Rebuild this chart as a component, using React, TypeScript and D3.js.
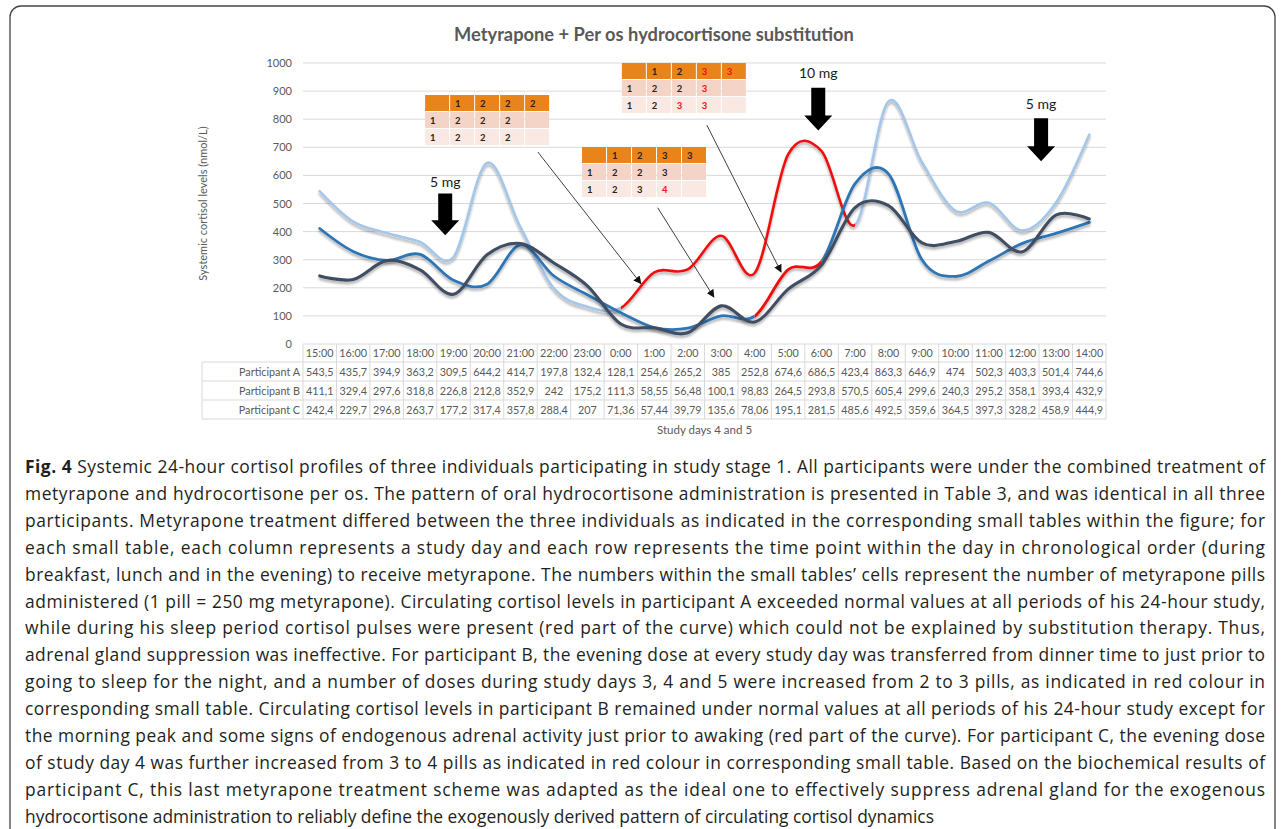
import React from "react";
import * as d3 from "d3";

const TIMES = [
  "15:00", "16:00", "17:00", "18:00", "19:00", "20:00", "21:00", "22:00", "23:00",
  "0:00", "1:00", "2:00", "3:00", "4:00", "5:00", "6:00", "7:00", "8:00", "9:00",
  "10:00", "11:00", "12:00", "13:00", "14:00",
];
const PART_A = [543.5, 435.7, 394.9, 363.2, 309.5, 644.2, 414.7, 197.8, 132.4, 128.1, 254.6, 265.2, 385, 252.8, 674.6, 686.5, 423.4, 863.3, 646.9, 474, 502.3, 403.3, 501.4, 744.6];
const PART_B = [411.1, 329.4, 297.6, 318.8, 226.8, 212.8, 352.9, 242, 175.2, 111.3, 58.55, 56.48, 100.1, 98.83, 264.5, 293.8, 570.5, 605.4, 299.6, 240.3, 295.2, 358.1, 393.4, 432.9];
const PART_C = [242.4, 229.7, 296.8, 263.7, 177.2, 317.4, 357.8, 288.4, 207, 71.36, 57.44, 39.79, 135.6, 78.06, 195.1, 281.5, 485.6, 492.5, 359.6, 364.5, 397.3, 328.2, 458.9, 444.9];
const NAMES = ["Participant A", "Participant B", "Participant C"];
const Y_TICKS = [0, 100, 200, 300, 400, 500, 600, 700, 800, 900, 1000];

// index ranges drawn in red (sleep-period pulses)
const RED_A: [number, number] = [9, 16];
const RED_B: [number, number] = [13, 15];

// small metyrapone tables, "*" = red number
const TABLE_A = [["", "1", "2", "2", "2"], ["1", "2", "2", "2", ""], ["1", "2", "2", "2", ""]];
const TABLE_B = [["", "1", "2", "3*", "3*"], ["1", "2", "2", "3*", ""], ["1", "2", "3*", "3*", ""]];
const TABLE_C = [["", "1", "2", "3", "3"], ["1", "2", "2", "3", ""], ["1", "2", "3", "4*", ""]];
// anchors in band units (from plot left) and value of the top edge
const TABLE_U = [3.65, 9.53, 8.34];
const TABLE_V = [886, 1000, 701];

// thin pointer arrows: band units / values
const PTR_FROM = [[7.02, 683], [12.07, 779], [10.6, 485]];
const PTR_TO = [[10.1, 215], [14.29, 256], [12.28, 167]];

// dose arrows
const DOSE_LABEL = ["5 mg", "10 mg", "5 mg"];
const DOSE_U = [4.25, 15.4, 22.06];
const DOSE_TEXT = [575, 963, 853];
const DOSE_TOP = [536, 912, 803];
const DOSE_TIP = [387, 760, 650];

const CAPTION = [
  " Systemic 24-hour cortisol profiles of three individuals participating in study stage 1. All participants were under the combined treatment of",
  "metyrapone and hydrocortisone per os. The pattern of oral hydrocortisone administration is presented in Table 3, and was identical in all three",
  "participants. Metyrapone treatment differed between the three individuals as indicated in the corresponding small tables within the figure; for",
  "each small table, each column represents a study day and each row represents the time point within the day in chronological order (during",
  "breakfast, lunch and in the evening) to receive metyrapone. The numbers within the small tables’ cells represent the number of metyrapone pills",
  "administered (1 pill = 250 mg metyrapone). Circulating cortisol levels in participant A exceeded normal values at all periods of his 24-hour study,",
  "while during his sleep period cortisol pulses were present (red part of the curve) which could not be explained by substitution therapy. Thus,",
  "adrenal gland suppression was ineffective. For participant B, the evening dose at every study day was transferred from dinner time to just prior to",
  "going to sleep for the night, and a number of doses during study days 3, 4 and 5 were increased from 2 to 3 pills, as indicated in red colour in",
  "corresponding small table. Circulating cortisol levels in participant B remained under normal values at all periods of his 24-hour study except for",
  "the morning peak and some signs of endogenous adrenal activity just prior to awaking (red part of the curve). For participant C, the evening dose",
  "of study day 4 was further increased from 3 to 4 pills as indicated in red colour in corresponding small table. Based on the biochemical results of",
  "participant C, this last metyrapone treatment scheme was adapted as the ideal one to effectively suppress adrenal gland for the exogenous",
  "hydrocortisone administration to reliably define the exogenously derived pattern of circulating cortisol dynamics",
];

const W = 1281, H = 829;
const P = { left: 303, right: 1106, top: 63, bottom: 344 };
const GRAY = "#595959";
const FONT = "Lato, 'Open Sans', sans-serif";
const RED = "#f01010";

const fmt = (v: number) => String(v).replace(".", ",");

export default function App() {
  const x = d3.scaleBand<string>().domain(TIMES).range([P.left, P.right]);
  const bw = x.bandwidth();
  const xc = (i: number) => x(TIMES[i])! + bw / 2;
  const u = d3.scaleLinear([0, TIMES.length], [P.left, P.right]);
  const y = d3.scaleLinear([0, 1000], [P.bottom, P.top]);
  const line = d3.line<number>().x((_, i) => xc(i)).y((d) => y(d)).curve(d3.curveCatmullRom.alpha(0));

  const series = [
    { name: NAMES[0], values: PART_A, color: "#a3c6e9", width: 2.6, red: RED_A },
    { name: NAMES[1], values: PART_B, color: "#2e75b6", width: 2.8, red: RED_B },
    { name: NAMES[2], values: PART_C, color: "#404e62", width: 3.1, red: null as [number, number] | null },
  ];

  const rowTops = [P.bottom, 362, 381, 400, 419];
  const labelLeft = 202;
  const tables = [TABLE_A, TABLE_B, TABLE_C];
  const cellW = 25, cellH = 17;
  const rowFill = ["#e9841a", "#f4d4c7", "#fae9e2"];

  return (
    <svg width={W} height={H} style={{ position: "absolute", left: 0, top: 0, background: "#fff" }}>
      <defs>
        <filter id="sh" x="-5%" y="-20%" width="110%" height="160%">
          <feDropShadow dx="0" dy="2.5" stdDeviation="1.3" floodColor="#000" floodOpacity="0.3" />
        </filter>
        <marker id="ah" viewBox="0 0 10 10" refX="9" refY="5" markerWidth="8" markerHeight="8"
          markerUnits="userSpaceOnUse" orient="auto">
          <path d="M0,0 L10,5 L0,10 Z" fill="#111" />
        </marker>
        {series.filter((s) => s.red).map((s, k) => (
          <React.Fragment key={k}>
            <clipPath id={`in-${s.name.slice(-1)}`}>
              <rect x={xc(s.red![0])} y={0} width={xc(s.red![1]) - xc(s.red![0])} height={H} />
            </clipPath>
            <clipPath id={`out-${s.name.slice(-1)}`}>
              <rect x={0} y={0} width={xc(s.red![0])} height={H} />
              <rect x={xc(s.red![1])} y={0} width={W - xc(s.red![1])} height={H} />
            </clipPath>
          </React.Fragment>
        ))}
      </defs>

      {/* frame */}
      <rect x={10} y={6} width={1265} height={900} rx={11} fill="none" stroke="#444" strokeWidth={1.3} />

      {/* title */}
      <text x={654} y={41} textAnchor="middle" fontFamily={FONT} fontWeight="bold" fontSize={18.3} fill={GRAY}>
        Metyrapone + Per os hydrocortisone substitution
      </text>

      {/* grid + y ticks */}
      {Y_TICKS.map((t) => (
        <g key={t}>
          <line x1={P.left} x2={P.right} y1={y(t)} y2={y(t)} stroke="#d9d9d9" strokeWidth={1} />
          <text x={292} y={y(t) + 4} textAnchor="end" fontFamily={FONT} fontSize={11} fill={GRAY}>{t}</text>
        </g>
      ))}
      <text transform={`translate(207,${(P.top + P.bottom) / 2}) rotate(-90)`} textAnchor="middle"
        fontFamily={FONT} fontSize={11} fill={GRAY}>
        Systemic cortisol levels (nmol/L)
      </text>

      {/* small metyrapone tables */}
      {tables.map((tb, k) => {
        const tx = u(TABLE_U[k]);
        const ty = y(TABLE_V[k]);
        return (
          <g key={k}>
            {tb.map((row, r) => row.map((c, j) => (
              <g key={`${r}-${j}`}>
                <rect x={tx + j * cellW} y={ty + r * cellH} width={cellW - 1} height={cellH - 1} fill={rowFill[r]} />
                <text x={tx + j * cellW + 5} y={ty + r * cellH + 12} fontFamily={FONT} fontWeight="bold"
                  fontSize={9.5} fill={c.endsWith("*") ? RED : "#2b2118"}>
                  {c.replace("*", "")}
                </text>
              </g>
            )))}
          </g>
        );
      })}

      {/* pointer arrows */}
      {PTR_FROM.map((f, k) => (
        <line key={k} x1={u(f[0])} y1={y(f[1])} x2={u(PTR_TO[k][0])} y2={y(PTR_TO[k][1])}
          stroke="#404040" strokeWidth={1} markerEnd="url(#ah)" />
      ))}

      {/* dose arrows */}
      {DOSE_LABEL.map((lb, k) => {
        const cx = u(DOSE_U[k]);
        const t = y(DOSE_TOP[k]);
        const p = y(DOSE_TIP[k]);
        const d = `M${cx - 7},${t} L${cx + 7},${t} L${cx + 7},${p - 15} L${cx + 14},${p - 15} L${cx},${p} L${cx - 14},${p - 15} L${cx - 7},${p - 15} Z`;
        return (
          <g key={k}>
            <text x={cx} y={y(DOSE_TEXT[k]) + 5} textAnchor="middle" fontFamily={FONT} fontSize={14} fill="#1a1a1a">{lb}</text>
            <path d={d} fill="#000" />
          </g>
        );
      })}

      {/* series */}
      {series.map((s) => {
        const id = s.name.slice(-1);
        const dp = line(s.values)!;
        return (
          <g key={s.name} filter="url(#sh)" fill="none" strokeLinecap="round" strokeLinejoin="round">
            {s.red ? (
              <>
                <path d={dp} stroke={s.color} strokeWidth={s.width} clipPath={`url(#out-${id})`} />
                <path d={dp} stroke={RED} strokeWidth={s.width} clipPath={`url(#in-${id})`} />
              </>
            ) : (
              <path d={dp} stroke={s.color} strokeWidth={s.width} />
            )}
          </g>
        );
      })}

      {/* data table */}
      <g fontFamily={FONT} fontSize={10.8} fill={GRAY}>
        {TIMES.map((t, i) => (
          <text key={t} x={xc(i)} y={rowTops[0] + 13} textAnchor="middle">{t}</text>
        ))}
        {series.map((s, r) => (
          <g key={s.name}>
            <line x1={206} x2={232} y1={rowTops[r + 1] + 9.5} y2={rowTops[r + 1] + 9.5} stroke={s.color}
              strokeWidth={3} filter="url(#sh)" />
            <text x={P.left - 3} y={rowTops[r + 1] + 14} textAnchor="end">{s.name}</text>
            {s.values.map((v, i) => (
              <text key={i} x={xc(i)} y={rowTops[r + 1] + 14} textAnchor="middle">{fmt(v)}</text>
            ))}
          </g>
        ))}
        {rowTops.slice(1).map((ry) => (
          <line key={ry} x1={labelLeft} x2={P.right} y1={ry} y2={ry} stroke="#d9d9d9" />
        ))}
        <line x1={labelLeft} x2={labelLeft} y1={rowTops[1]} y2={rowTops[4]} stroke="#d9d9d9" />
        {TIMES.map((t) => (
          <line key={t} x1={x(t)} x2={x(t)} y1={rowTops[0]} y2={rowTops[4]} stroke="#d9d9d9" />
        ))}
        <line x1={P.right} x2={P.right} y1={rowTops[0]} y2={rowTops[4]} stroke="#d9d9d9" />
        <text x={(P.left + P.right) / 2} y={rowTops[4] + 15} textAnchor="middle" fontSize={11.5}>Study days 4 and 5</text>
      </g>

      {/* caption */}
      <g fontFamily="'Open Sans', sans-serif" fontSize={17.4} fill="#231f20">
        {CAPTION.map((ln, i) => {
          const last = i === CAPTION.length - 1;
          return (
            <text key={i} x={25} y={473 + i * 26.9}
              textLength={last ? undefined : 1240} lengthAdjust={last ? undefined : "spacing"}>
              {i === 0 && <tspan fontWeight="bold">Fig. 4</tspan>}
              {ln}
            </text>
          );
        })}
      </g>
    </svg>
  );
}
